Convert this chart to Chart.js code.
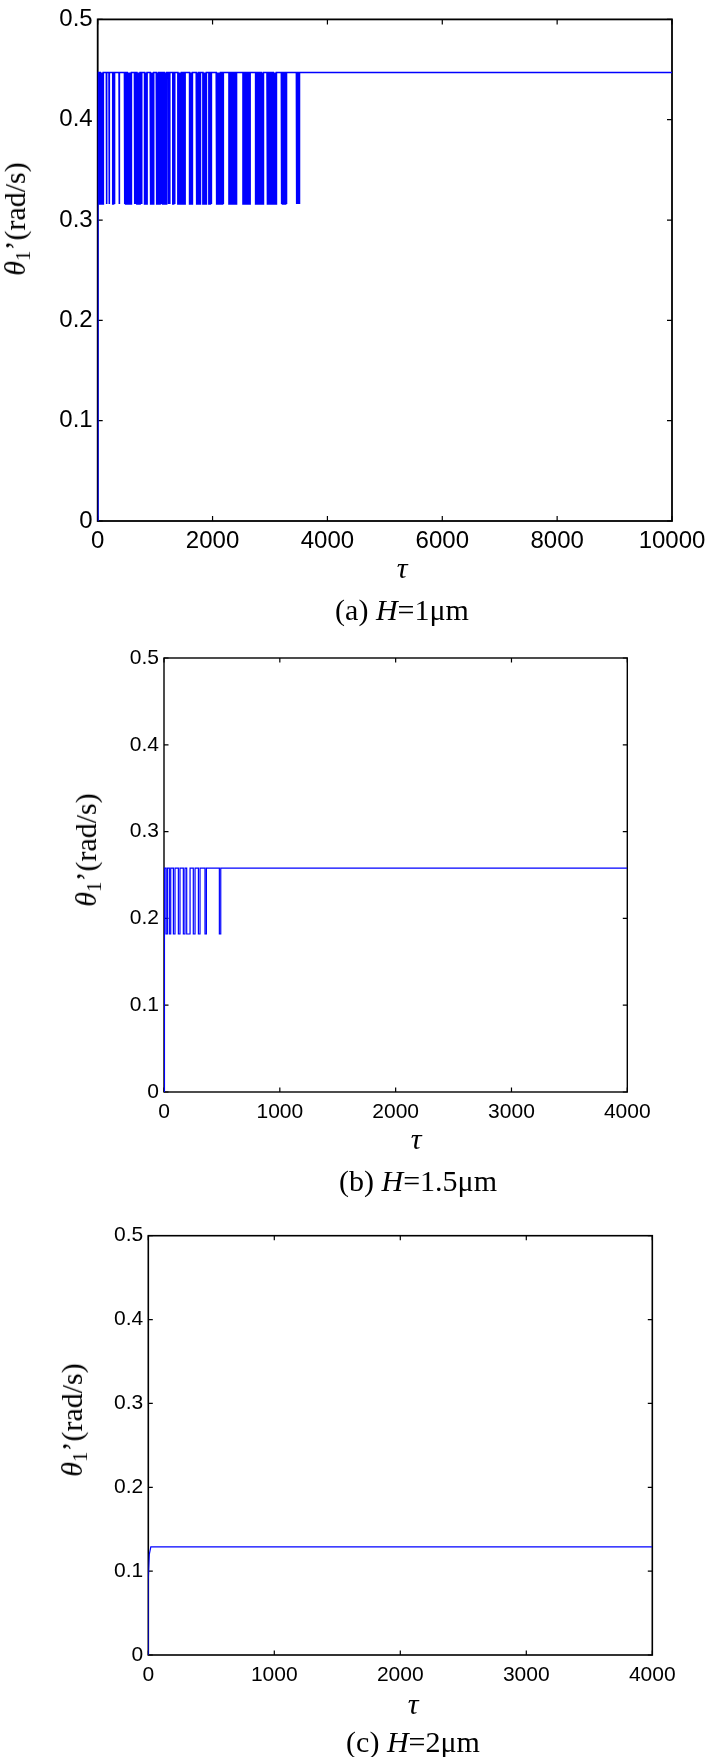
<!DOCTYPE html>
<html>
<head>
<meta charset="utf-8">
<script src="https://cdn.jsdelivr.net/npm/chart.js@4.4.1/dist/chart.umd.min.js"></script>
<style>
  body { margin: 0; background: #fff; }
  #page { position: relative; width: 711px; height: 1757px; overflow: hidden; background: #fff; }
  canvas { position: absolute; left: 0; }
  .ylab, .cap { position: absolute; font-family: "Liberation Serif", "Times New Roman", serif; white-space: nowrap; color: #000; line-height: 1; }
  .ylab { transform: translate(-50%, -50%) rotate(-90deg); }
  .cap { transform: translate(-50%, -50%); }
  sub { font-size: 0.7em; vertical-align: -0.25em; line-height: 0; }
</style>
</head>
<body>
<div id="page">
  <canvas id="chartA" width="711" height="560" style="top:0px"></canvas>
  <canvas id="chartB" width="711" height="540" style="top:600px"></canvas>
  <canvas id="chartC" width="711" height="500" style="top:1200px"></canvas>

  <!-- (a) -->
  <div class="ylab" style="left:15px; top:219px; font-size:30px"><i>θ</i><sub>1</sub>’(rad/s)</div>
  <div class="cap" style="left:402px; top:568px; font-size:30px"><i>τ</i></div>
  <div class="cap" style="left:402px; top:610px; font-size:30px">(a) <i>H</i>=1μm</div>

  <!-- (b) -->
  <div class="ylab" style="left:86px; top:850px; font-size:30px"><i>θ</i><sub>1</sub>’(rad/s)</div>
  <div class="cap" style="left:416px; top:1139px; font-size:30px"><i>τ</i></div>
  <div class="cap" style="left:418px; top:1181px; font-size:30px">(b) <i>H</i>=1.5μm</div>

  <!-- (c) -->
  <div class="ylab" style="left:72px; top:1420px; font-size:30px"><i>θ</i><sub>1</sub>’(rad/s)</div>
  <div class="cap" style="left:413px; top:1704px; font-size:30px"><i>τ</i></div>
  <div class="cap" style="left:413px; top:1742px; font-size:30px">(c) <i>H</i>=2μm</div>
</div>

<script>
/* ---------- DATA ---------- */
// shared y ticks (rad/s)
const thetaTicks = [0, 0.1, 0.2, 0.3, 0.4, 0.5];
const tauTicksA = [0, 2000, 4000, 6000, 8000, 10000];
const tauTicksBC = [0, 1000, 2000, 3000, 4000];

// (a) H = 1um : stick-slip between two levels, dips
const highA = 0.447;
const lowA = 0.316;
const dipWidthA = 8;
const dipStartA = [
  8, 20, 32, 44, 56, 68, 80, 90, 151, 197, 262, 274, 288, 372,
  466, 478, 490, 502, 514, 526, 538, 550, 562, 574, 584, 640, 652,
  682, 694, 706, 718, 730, 761, 816, 828, 840, 852, 914, 926, 938, 950, 962, 972,
  1020, 1032, 1044, 1056, 1068, 1078, 1105, 1130, 1146, 1158, 1170, 1184, 1198, 1228, 1250, 1308, 1320, 1336,
  1396, 1408, 1420, 1432, 1444, 1456, 1468, 1480, 1492, 1504, 1514, 1600, 1612, 1624, 1636, 1646,
  1716, 1728, 1740, 1752, 1764, 1776, 1786, 1832, 1844, 1856, 1868, 1880, 1890, 1936, 1948, 1960, 1974,
  2064, 2076, 2088, 2100, 2112, 2124, 2136, 2148, 2160, 2172, 2182,
  2286, 2298, 2310, 2322, 2334, 2346, 2358, 2370, 2382, 2394, 2406, 2414,
  2530, 2542, 2554, 2566, 2578, 2590, 2602, 2614, 2626, 2638, 2646,
  2750, 2762, 2774, 2786, 2798, 2810, 2822, 2834, 2846, 2858, 2870, 2878,
  2948, 2960, 2972, 2984, 2996, 3008, 3020, 3032, 3044, 3056, 3068, 3080, 3092, 3104,
  3198, 3210, 3222, 3234, 3246, 3258, 3270, 3282, 3460, 3476, 3492, 3508
];
const endA = 10000;

// (b) H = 1.5um
const highB = 0.258;
const lowB = 0.182;
const dipStartB = [17, 46, 81, 124, 167, 196, 253, 297, 354, 478];
const dipEndB   = [29, 58, 95, 138, 181, 225, 268, 311, 366, 490];
const endB = 4000;

// (c) H = 2um : quick rise then flat
const tauC = [0, 0, 8, 20, 4000];
const thetaC = [0, 0.09, 0.12, 0.129, 0.129];

/* ---------- BUILD POINTS ---------- */
function dipSeries(high, low, starts, ends, endTau) {
  const pts = [{ x: 0, y: 0 }, { x: 4, y: high }];
  starts.forEach((s, i) => {
    pts.push({ x: s, y: high }, { x: s, y: low }, { x: ends[i], y: low }, { x: ends[i], y: high });
  });
  pts.push({ x: endTau, y: high });
  return pts;
}

const pointsA = dipSeries(highA, lowA, dipStartA, dipStartA.map(s => s + dipWidthA), endA);
const pointsB = dipSeries(highB, lowB, dipStartB, dipEndB, endB);
const pointsC = tauC.map((t, i) => ({ x: t, y: thetaC[i] }));

/* ---------- MATLAB-LIKE BOX WITH INWARD TICKS ---------- */
const frameTicks = {
  id: "frameTicks",
  beforeDatasetsDraw(chart, args, opts) {
    const { ctx, chartArea: a, scales } = chart;
    ctx.save();
    ctx.strokeStyle = "#000";
    ctx.lineWidth = opts.width;
    ctx.strokeRect(a.left, a.top, a.right - a.left, a.bottom - a.top);
    ctx.lineWidth = opts.tickWidth;
    ctx.beginPath();
    scales.x.ticks.forEach((t) => {
      const px = scales.x.getPixelForValue(t.value);
      ctx.moveTo(px, a.bottom);
      ctx.lineTo(px, a.bottom - opts.len);
      ctx.moveTo(px, a.top);
      ctx.lineTo(px, a.top + opts.len);
    });
    scales.y.ticks.forEach((t) => {
      const py = scales.y.getPixelForValue(t.value);
      ctx.moveTo(a.left, py);
      ctx.lineTo(a.left + opts.len, py);
      ctx.moveTo(a.right, py);
      ctx.lineTo(a.right - opts.len, py);
    });
    ctx.stroke();
    ctx.restore();
  },
};

function makeChart(id, cfg) {
  return new Chart(document.getElementById(id), {
    type: "line",
    data: {
      datasets: [
        {
          data: cfg.points,
          borderColor: "#0000ff",
          borderWidth: cfg.lineWidth,
          pointRadius: 0,
          tension: 0,
          fill: false,
        },
      ],
    },
    options: {
      responsive: false,
      animation: false,
      events: [],
      layout: { padding: { left: 0, top: cfg.top, right: 711 - cfg.right, bottom: 0 } },
      plugins: {
        legend: { display: false },
        tooltip: { enabled: false },
        frameTicks: { width: cfg.frame, tickWidth: 1.2, len: cfg.tickLen },
      },
      scales: {
        x: {
          type: "linear",
          min: 0,
          max: cfg.xTicks[cfg.xTicks.length - 1],
          afterBuildTicks: (axis) => { axis.ticks = cfg.xTicks.map((v) => ({ value: v })); },
          afterFit: (axis) => { axis.height = cfg.xAxisH; },
          grid: { display: false, drawTicks: false },
          border: { display: false },
          ticks: {
            color: "#000",
            padding: cfg.xPad,
            maxRotation: 0,
            autoSkip: false,
            font: { family: "Liberation Sans", size: cfg.tickSize },
            callback: (v) => String(v),
          },
        },
        y: {
          type: "linear",
          min: 0,
          max: 0.5,
          afterBuildTicks: (axis) => { axis.ticks = thetaTicks.map((v) => ({ value: v })); },
          afterFit: (axis) => { axis.width = cfg.left; },
          grid: { display: false, drawTicks: false },
          border: { display: false },
          ticks: {
            color: "#000",
            padding: 5,
            autoSkip: false,
            font: { family: "Liberation Sans", size: cfg.tickSize },
            callback: (v) => String(v),
          },
        },
      },
    },
    plugins: [frameTicks],
  });
}

// (a) canvas top 0
makeChart("chartA", {
  points: pointsA, xTicks: tauTicksA, lineWidth: 1.6, frame: 1.8, tickLen: 5,
  left: 97.7, right: 672, top: 13, xAxisH: 560 - 521,
  tickSize: 24, xPad: 5.6,
});

// (b) canvas top 600
makeChart("chartB", {
  points: pointsB, xTicks: tauTicksBC, lineWidth: 1.2, frame: 1.4, tickLen: 4.5,
  left: 164, right: 627.3, top: 58, xAxisH: 540 - 492,
  tickSize: 21, xPad: 7.4,
});

// (c) canvas top 1200
makeChart("chartC", {
  points: pointsC, xTicks: tauTicksBC, lineWidth: 1.2, frame: 1.6, tickLen: 4.5,
  left: 148.3, right: 652.3, top: 35.7, xAxisH: 500 - 455,
  tickSize: 21, xPad: 7.4,
});
</script>
</body>
</html>
